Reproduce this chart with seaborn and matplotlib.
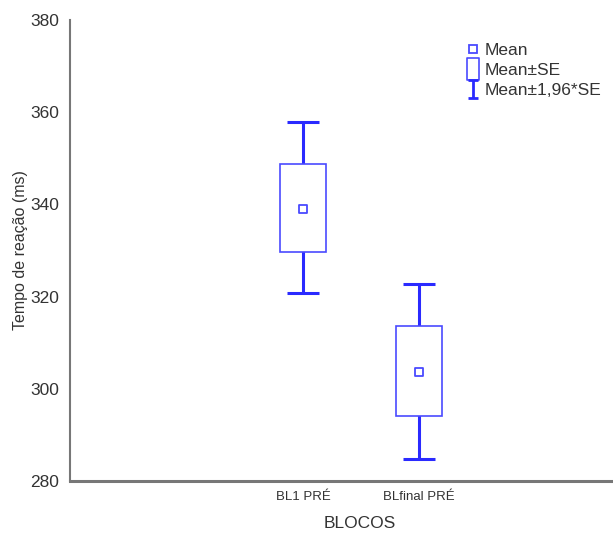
import numpy as np
import pandas as pd
import matplotlib
matplotlib.use("Agg")
import matplotlib.pyplot as plt
import seaborn as sns
from matplotlib.lines import Line2D
from matplotlib.path import Path

# values
blocos = ["BL1 PRÉ", "BLfinal PRÉ"]
media = [339.1, 303.6]
se_baixo = [329.7, 294.0]
se_alto = [348.7, 313.6]
ic_baixo = [320.8, 284.7]
ic_alto = [357.9, 322.8]

df = pd.DataFrame({"blocos": blocos, "media": media,
                   "se_baixo": se_baixo, "se_alto": se_alto,
                   "ic_baixo": ic_baixo, "ic_alto": ic_alto})

sns.set_theme(style="white")
plt.rcParams["font.family"] = ["Liberation Sans", "DejaVu Sans"]

azul = "#2a2aff"
azul_box = "#4a4aff"

fig = plt.figure(figsize=(6.13, 5.33), dpi=100)
ax = fig.add_axes([70/613, 1-481/533, 1-70/613, (481-20)/533])

# mean markers (seaborn sets up the categorical axis)
sns.scatterplot(data=df, x="blocos", y="media", marker="s", s=30,
                facecolor="white", edgecolor=azul_box, linewidth=1.3,
                zorder=4, ax=ax, legend=False)

pos = np.arange(len(blocos))
# whiskers: mean +- 1.96*SE
ax.errorbar(pos, df["media"],
            yerr=[df["media"] - df["ic_baixo"], df["ic_alto"] - df["media"]],
            fmt="none", ecolor=azul, elinewidth=2.2, capsize=11.5,
            capthick=2.2, zorder=1)
# boxes: mean +- SE
ax.bar(pos, df["se_alto"] - df["se_baixo"], bottom=df["se_baixo"],
       width=0.4, facecolor="white", edgecolor=azul_box, linewidth=1.2,
       zorder=2)

ax.set_xlim(-2.01, 2.67)
ax.set_ylim(280, 380)
ax.set_yticks(np.arange(280, 381, 20))
ax.tick_params(axis="y", labelsize=12.5, labelcolor="#333333", length=0, pad=8)
ax.tick_params(axis="x", labelsize=9.5, labelcolor="#333333", length=0, pad=7)

for s in ["top", "right"]:
    ax.spines[s].set_visible(False)
ax.spines["left"].set_color("#777777")
ax.spines["left"].set_linewidth(1.5)
ax.spines["bottom"].set_color("#777777")
ax.spines["bottom"].set_linewidth(2.2)

ax.set_xlabel("BLOCOS", fontsize=12.5, color="#333333")
ax.xaxis.set_label_coords(0.534, -0.075)
ax.set_ylabel("Tempo de reação (ms)", fontsize=11.5, color="#333333")
ax.yaxis.set_label_coords(-0.078, 0.5)

# legend with custom symbols
caixa = Path([(-0.5, -1), (0.5, -1), (0.5, 1), (-0.5, 1), (-0.5, -1)],
             [Path.MOVETO, Path.LINETO, Path.LINETO, Path.LINETO, Path.CLOSEPOLY])
barra = Path([(-0.6, -1), (0.6, -1), (0, -1), (0, 1), (-0.6, 1), (0.6, 1)],
             [Path.MOVETO, Path.LINETO, Path.MOVETO, Path.LINETO, Path.MOVETO, Path.LINETO])
handles = [
    Line2D([], [], ls="none", marker="s", ms=5.5, mfc="white", mec=azul_box, mew=1.3),
    Line2D([], [], ls="none", marker=caixa, ms=16, mfc="white", mec=azul_box, mew=1.2),
    Line2D([], [], ls="none", marker=barra, ms=13, mfc="none", mec=azul, mew=2),
]
leg = ax.legend(handles, ["Mean", "Mean±SE", "Mean±1,96*SE"],
                loc="upper left", bbox_to_anchor=(0.711, 0.97), frameon=False,
                fontsize=12.5, handlelength=0.9, handletextpad=0.25,
                labelspacing=0.3, borderpad=0)
for t in leg.get_texts():
    t.set_color("#333333")

fig.savefig("out.png", dpi=100)
